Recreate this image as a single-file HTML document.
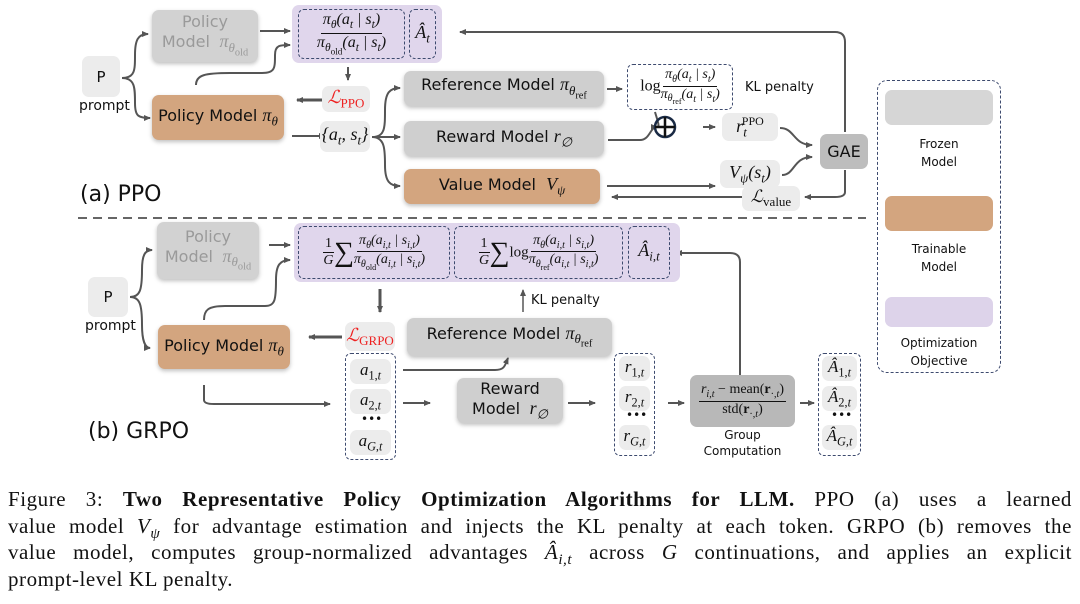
<!DOCTYPE html>
<html><head><meta charset="utf-8"><style>
body{margin:0;width:1080px;height:604px;background:#fff;position:relative;overflow:hidden;font-family:"DejaVu Sans","Liberation Sans",sans-serif;color:#111}
.b{position:absolute;box-sizing:border-box;border-radius:7px;display:flex;align-items:center;justify-content:center;text-align:center;font-size:16px;line-height:1.2}
.g{background:#cfcfcf;box-shadow:0 2px 4px rgba(0,0,0,.25)}
.lg{background:#ececec}
.br{background:#d3a57f;box-shadow:0 2px 4px rgba(0,0,0,.25)}
.pu{background:#e0d6ec}
.d{border:1.5px dashed #3d4a6e;border-radius:6px}
.m{font-family:"Liberation Serif",serif;font-style:italic}
.r{font-family:"Liberation Serif",serif;font-style:normal}
.fr{display:inline-flex;flex-direction:column;align-items:center;vertical-align:middle;line-height:1.15}
.fr>span:first-child{border-bottom:1px solid #111;padding:0 2px}
.t{position:absolute;font-size:13px}
sub,sup{font-size:72%}
sub sub{font-size:80%}
.cap{position:absolute;left:8px;top:486px;width:1064px;font-family:"Liberation Serif",serif;font-size:21px;line-height:26.5px;letter-spacing:0.55px}
.cap div{text-align:justify;text-align-last:justify;white-space:nowrap;height:26.5px}
.cap div.l{text-align-last:left}
</style></head><body>
<svg width="1080" height="480" style="position:absolute;left:0;top:0" fill="none" stroke="#555" stroke-width="2">
<defs><marker id="a" markerWidth="8" markerHeight="8" refX="6" refY="4" orient="auto" markerUnits="userSpaceOnUse"><path d="M0,1 L7,4 L0,7z" fill="#555" stroke="none"/></marker></defs>
<path d="M122,78 C135,78 135,70 135,55 C135,40 138,34 148,34" marker-end="url(#a)"/>
<path d="M122,78 C135,78 135,88 135,103 C135,116 138,118 150,118" marker-end="url(#a)"/>
<path d="M260,31 H290" marker-end="url(#a)"/>
<path d="M196,85 C196,75 205,73 230,73 H262 C275,73 275,68 275,55 C275,45 280,45 290,45" marker-end="url(#a)"/>
<path d="M348,67 V80" marker-end="url(#a)"/>
<path d="M331,100 H297" marker-end="url(#a)" stroke-width="3"/>
<path d="M292,136 H325" marker-end="url(#a)"/>
<path d="M372,137 C385,137 385,128 385,110 C385,92 390,88 400,88" marker-end="url(#a)"/>
<path d="M372,137 H400" marker-end="url(#a)"/>
<path d="M372,137 C385,137 385,150 385,165 C385,182 390,186 400,186" marker-end="url(#a)"/>
<path d="M607,89 H622" marker-end="url(#a)"/>
<path d="M608,140 H640 C650,140 650,127 657,127" marker-end="url(#a)"/>
<path d="M655,112 C658,122 660,127 657,127"/>
<path d="M703,127 H715" marker-end="url(#a)"/>
<path d="M780,128 C795,128 793,145 812,145" marker-end="url(#a)"/>
<path d="M607,186 H715" marker-end="url(#a)"/>
<path d="M782,175 C795,175 793,157 812,157" marker-end="url(#a)"/>
<path d="M845,132 V42 Q845,32 835,32 H460" marker-end="url(#a)"/>
<path d="M845,170 V192 Q845,197 835,197 H805" marker-end="url(#a)"/>
<path d="M748,197 H612" marker-end="url(#a)"/>
<circle cx="665" cy="127" r="10" stroke="#1a2a44" stroke-width="2.5"/>
<path d="M655,127 H675 M665,117 V137" stroke="#111" stroke-width="2.5"/>
<path d="M78,218 H866" stroke="#666" stroke-width="2" stroke-dasharray="9,6"/>
<path d="M130,297 C140,297 142,290 142,270 C142,255 145,250 152,250" marker-end="url(#a)"/>
<path d="M130,297 C140,297 142,305 142,325 C142,340 145,348 150,348" marker-end="url(#a)"/>
<path d="M269,245 H290" marker-end="url(#a)"/>
<path d="M204,320 C204,310 208,306 225,306 H265 C275,306 276,300 276,280 C276,265 280,260 290,260" marker-end="url(#a)"/>
<path d="M380,289 V312" marker-end="url(#a)" stroke-width="3"/>
<path d="M342,337 H309" marker-end="url(#a)" stroke-width="3"/>
<path d="M523,312 V290" marker-end="url(#a)" stroke-width="1.5"/>
<path d="M403,370 H495 C505,370 505,365 508,358" marker-end="url(#a)"/>
<path d="M204,385 V400 Q204,404 214,404 H330" marker-end="url(#a)"/>
<path d="M403,403 H430" marker-end="url(#a)"/>
<path d="M568,403 H595" marker-end="url(#a)"/>
<path d="M668,403 H684" marker-end="url(#a)"/>
<path d="M800,403 H814" marker-end="url(#a)"/>
<path d="M740,378 V262 Q740,253 730,253 H676" marker-end="url(#a)"/>
</svg>

<div class="b lg" style="left:82px;top:56px;width:38px;height:41px;font-size:15px">P</div>
<div class="t" style="left:79px;top:98px;font-size:14px">prompt</div>
<div class="b g" style="left:152px;top:10px;width:106px;height:52px;color:#9a9a9a;background:#d2d2d2"><span>Policy<br>Model <span class="m" style="font-size:18px">&nbsp;π<sub>θ<sub class="r">old</sub></sub></span></span></div>
<div class="b pu" style="left:292px;top:5px;width:150px;height:58px"></div>
<div class="b d" style="left:298px;top:9px;width:107px;height:50px"><span class="fr m" style="font-size:16px"><span>π<sub>θ</sub>(a<sub>t</sub> | s<sub>t</sub>)</span><span>π<sub>θ<sub class="r">old</sub></sub>(a<sub>t</sub> | s<sub>t</sub>)</span></span></div>
<div class="b d" style="left:409px;top:9px;width:27px;height:50px;font-size:18px"><span class="m">Â<sub>t</sub></span></div>
<div class="b lg" style="left:322px;top:86px;width:48px;height:26px;color:#e22;font-size:18px"><span><span class="m">ℒ</span><sub class="r" style="font-size:13px">PPO</sub></span></div>
<div class="b br" style="left:152px;top:95px;width:132px;height:45px"><span>Policy Model&nbsp;<span class="m" style="font-size:18px">π<sub>θ</sub></span></span></div>
<div class="b lg" style="left:320px;top:121px;width:50px;height:31px;font-size:18px"><span class="m">{a<sub>t</sub>, s<sub>t</sub>}</span></div>
<div class="b g" style="left:404px;top:71px;width:200px;height:35px"><span>Reference Model&nbsp;<span class="m" style="font-size:18px">π<sub>θ<sub class="r">ref</sub></sub></span></span></div>
<div class="b g" style="left:404px;top:121px;width:200px;height:35px"><span>Reward Model&nbsp;<span class="m" style="font-size:18px">r<sub>∅</sub></span></span></div>
<div class="b br" style="left:404px;top:169px;width:196px;height:35px"><span>Value Model&nbsp; <span class="m" style="font-size:18px">V<sub>ψ</sub></span></span></div>
<div class="b d" style="left:627px;top:64px;width:106px;height:46px;font-size:14px"><span><span class="r" style="font-size:16px">log</span><span class="fr m"><span>π<sub>θ</sub>(a<sub>t</sub> | s<sub>t</sub>)</span><span>π<sub>θ<sub class="r">ref</sub></sub>(a<sub>t</sub> | s<sub>t</sub>)</span></span></span></div>
<div class="t" style="left:745px;top:80px">KL penalty</div>
<div class="b lg" style="left:722px;top:113px;width:56px;height:28px;font-size:18px"><span class="m">r<sub>t</sub><sup class="r" style="margin-left:-5px;font-size:12px">PPO</sup></span></div>
<div class="b" style="left:820px;top:134px;width:48px;height:35px;background:#bdbdbd;font-size:16px">GAE</div>
<div class="b lg" style="left:720px;top:160px;width:60px;height:28px;font-size:18px"><span class="m">V<sub>ψ</sub>(s<sub>t</sub>)</span></div>
<div class="b lg" style="left:742px;top:186px;width:58px;height:25px"><span><span class="m" style="font-size:17px">ℒ</span><sub class="r" style="font-size:13px">value</sub></span></div>
<div class="t" style="left:80px;top:182px;font-size:22px">(a) PPO</div>

<div class="b d" style="left:877px;top:80px;width:124px;height:293px;border-radius:10px"></div>
<div class="b" style="left:885px;top:90px;width:108px;height:35px;background:#d6d6d6"></div>
<div class="t" style="left:885px;top:135px;width:108px;text-align:center;font-size:12px;line-height:18px">Frozen<br>Model</div>
<div class="b" style="left:885px;top:196px;width:108px;height:35px;background:#d3a57f"></div>
<div class="t" style="left:885px;top:240px;width:108px;text-align:center;font-size:12px;line-height:18px">Trainable<br>Model</div>
<div class="b" style="left:885px;top:297px;width:108px;height:30px;background:#ddd3ea"></div>
<div class="t" style="left:885px;top:334px;width:108px;text-align:center;font-size:12px;line-height:18px">Optimization<br>Objective</div>

<div class="b lg" style="left:88px;top:277px;width:40px;height:40px;font-size:15px">P</div>
<div class="t" style="left:85px;top:318px;font-size:14px">prompt</div>
<div class="b g" style="left:157px;top:222px;width:102px;height:57px;color:#9a9a9a;background:#d2d2d2"><span>Policy<br>Model <span class="m" style="font-size:18px">&nbsp;π<sub>θ<sub class="r">old</sub></sub></span></span></div>
<div class="b pu" style="left:294px;top:223px;width:386px;height:59px"></div>
<div class="b d" style="left:298px;top:226px;width:152px;height:53px;font-size:14px"><span><span class="fr r" style="font-size:14px"><span>1</span><span class="m">G</span></span><span style="font-size:28px;font-family:'Liberation Serif';vertical-align:middle">∑</span><span class="fr m"><span>π<sub>θ</sub>(a<sub>i,t</sub> | s<sub>i,t</sub>)</span><span>π<sub>θ<sub class="r">old</sub></sub>(a<sub>i,t</sub> | s<sub>i,t</sub>)</span></span></span></div>
<div class="b d" style="left:454px;top:226px;width:169px;height:53px;font-size:14px"><span><span class="fr r"><span>1</span><span class="m">G</span></span><span style="font-size:28px;font-family:'Liberation Serif';vertical-align:middle">∑</span><span class="r" style="font-size:15px">log</span><span class="fr m"><span>π<sub>θ</sub>(a<sub>i,t</sub> | s<sub>i,t</sub>)</span><span>π<sub>θ<sub class="r">ref</sub></sub>(a<sub>i,t</sub> | s<sub>i,t</sub>)</span></span></span></div>
<div class="b d" style="left:628px;top:226px;width:42px;height:53px;font-size:18px"><span class="m">Â<sub>i,t</sub></span></div>
<div class="t" style="left:531px;top:293px">KL penalty</div>
<div class="b lg" style="left:345px;top:322px;width:50px;height:29px;color:#e22"><span><span class="m" style="font-size:18px">ℒ</span><sub class="r" style="font-size:13px">GRPO</sub></span></div>
<div class="b br" style="left:158px;top:325px;width:132px;height:44px"><span>Policy Model&nbsp;<span class="m" style="font-size:18px">π<sub>θ</sub></span></span></div>
<div class="b g" style="left:407px;top:318px;width:205px;height:38px"><span>Reference Model&nbsp;<span class="m" style="font-size:18px">π<sub>θ<sub class="r">ref</sub></sub></span></span></div>
<div class="b d" style="left:345px;top:353px;width:51px;height:107px"></div>
<div class="b lg" style="left:350px;top:359px;width:41px;height:25px;font-size:17px"><span class="m">a<sub class="r">1,<i>t</i></sub></span></div>
<div class="b lg" style="left:350px;top:389px;width:41px;height:25px;font-size:17px"><span class="m">a<sub class="r">2,<i>t</i></sub></span></div>
<div class="t" style="left:361px;top:412px;font-size:12px">•••</div>
<div class="b lg" style="left:350px;top:430px;width:41px;height:25px;font-size:17px"><span class="m">a<sub>G,t</sub></span></div>
<div class="b g" style="left:457px;top:378px;width:106px;height:45px"><span>Reward<br>Model <span class="m" style="font-size:18px">&nbsp;r<sub>∅</sub></span></span></div>
<div class="b d" style="left:614px;top:353px;width:41px;height:103px"></div>
<div class="b lg" style="left:619px;top:356px;width:31px;height:25px;font-size:17px"><span class="m">r<sub class="r">1,<i>t</i></sub></span></div>
<div class="b lg" style="left:619px;top:386px;width:31px;height:25px;font-size:17px"><span class="m">r<sub class="r">2,<i>t</i></sub></span></div>
<div class="t" style="left:626px;top:408px;font-size:12px">•••</div>
<div class="b lg" style="left:619px;top:425px;width:31px;height:25px;font-size:17px"><span class="m">r<sub>G,t</sub></span></div>
<div class="b" style="left:690px;top:375px;width:105px;height:52px;background:#b8b8b8"><span class="fr"><span class="m" style="font-size:14px">r<sub>i,t</sub> <span class="r">− mean(<b>r</b><sub>·,<i>t</i></sub>)</span></span><span class="r" style="font-size:14px">std(<b>r</b><sub>·,<i>t</i></sub>)</span></span></div>
<div class="t" style="left:690px;top:427px;width:105px;text-align:center;font-size:12px;line-height:16px">Group<br>Computation</div>
<div class="b d" style="left:818px;top:353px;width:43px;height:103px"></div>
<div class="b lg" style="left:822px;top:356px;width:35px;height:25px;font-size:17px"><span class="m">Â<sub class="r">1,<i>t</i></sub></span></div>
<div class="b lg" style="left:822px;top:386px;width:35px;height:25px;font-size:17px"><span class="m">Â<sub class="r">2,<i>t</i></sub></span></div>
<div class="t" style="left:831px;top:408px;font-size:12px">•••</div>
<div class="b lg" style="left:822px;top:425px;width:35px;height:25px;font-size:17px"><span class="m">Â<sub>G,t</sub></span></div>
<div class="t" style="left:88px;top:419px;font-size:22px">(b) GRPO</div>

<div class="cap">
<div>Figure 3: <b>Two Representative Policy Optimization Algorithms for LLM.</b> PPO (a) uses a learned</div>
<div>value model <i>V<sub>ψ</sub></i> for advantage estimation and injects the KL penalty at each token. GRPO (b) removes the</div>
<div>value model, computes group-normalized advantages <i>Â<sub>i,t</sub></i> across <i>G</i> continuations, and applies an explicit</div>
<div class="l">prompt-level KL penalty.</div>
</div>
</body></html>
